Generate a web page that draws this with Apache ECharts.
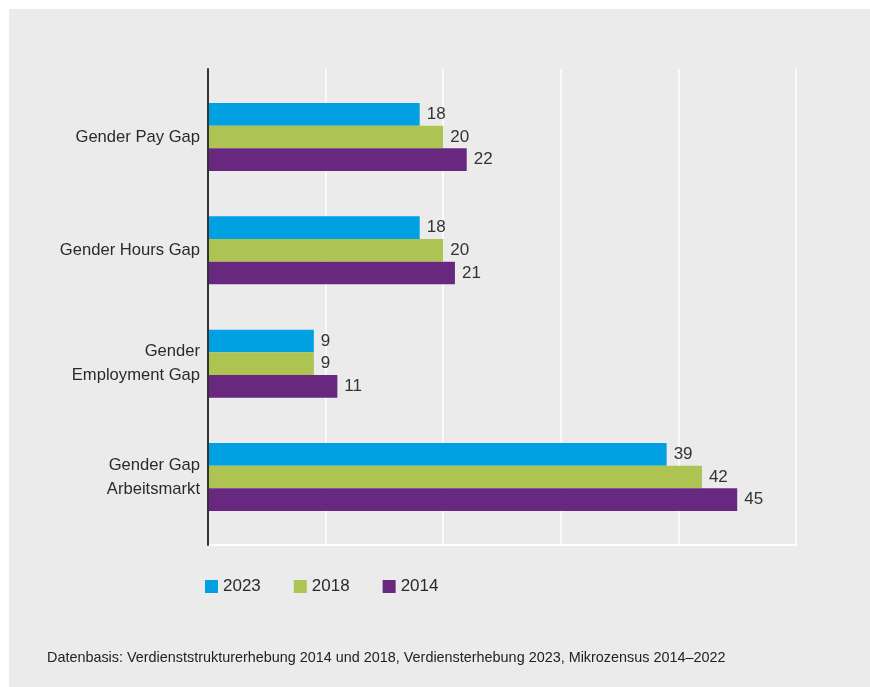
<!DOCTYPE html>
<html>
<head>
<meta charset="utf-8">
<script src="https://cdn.jsdelivr.net/npm/echarts@6/dist/echarts.min.js"></script>
<style>
html,body{margin:0;padding:0;background:#ffffff;}
#chart{position:absolute;left:9px;top:9px;width:861px;height:678px;background:#ebebeb;}
</style>
</head>
<body>
<div id="chart"></div>
<script>
var categories = ['Gender Pay Gap', 'Gender Hours Gap', 'Gender\nEmployment Gap', 'Gender Gap\nArbeitsmarkt'];
var seriesNames = ['2023', '2018', '2014'];
var values2023 = [18, 18, 9, 39];
var values2018 = [20, 20, 9, 42];
var values2014 = [22, 21, 11, 45];
var xTicks = [0, 10, 20, 30, 40, 50];
var footnote = 'Datenbasis: Verdienststrukturerhebung 2014 und 2018, Verdiensterhebung 2023, Mikrozensus 2014\u20132022';

var colors = ['#00a0e2', '#adc452', '#68287f'];
var font = '"Liberation Sans", Arial, Helvetica, sans-serif';
var chart = echarts.init(document.getElementById('chart'), null, {renderer: 'canvas'});

var valueData = [values2023, values2018, values2014];
var series = seriesNames.map(function (name, i) {
  return {
    name: name,
    type: 'bar',
    xAxisIndex: 1,
    yAxisIndex: 1,
    data: valueData[i],
    barGap: '0%',
    barCategoryGap: '40%',
    itemStyle: {color: colors[i]},
    label: {
      show: true,
      position: 'right',
      distance: 7,
      color: '#333333',
      fontFamily: font,
      fontSize: 17
    }
  };
});

var option = {
  animation: false,
  backgroundColor: '#ebebeb',
  color: colors,
  textStyle: {fontFamily: font},
  grid: [
    {left: 199, top: 60, width: 588, height: 476, containLabel: false},
    {left: 199, top: 71.3, width: 588, height: 453.4, containLabel: false}
  ],
  xAxis: [
    {
      gridIndex: 0, type: 'value',
      min: xTicks[0], max: xTicks[xTicks.length - 1], interval: xTicks[1] - xTicks[0],
      axisLine: {show: true, lineStyle: {color: '#ffffff', width: 2}},
      axisTick: {show: false},
      axisLabel: {show: false},
      splitLine: {show: true, lineStyle: {color: '#ffffff', width: 1.5}}
    },
    {
      gridIndex: 1, type: 'value',
      min: xTicks[0], max: xTicks[xTicks.length - 1],
      show: false
    }
  ],
  yAxis: [
    {
      gridIndex: 0, type: 'category', data: [''],
      axisLine: {show: true, lineStyle: {color: '#333333', width: 2}},
      axisTick: {show: false},
      axisLabel: {show: false},
      z: 5
    },
    {
      gridIndex: 1, type: 'category', data: categories, inverse: true,
      axisLine: {show: false},
      axisTick: {show: false},
      axisLabel: {
        color: '#2a2a2a', fontSize: 16.6, fontFamily: font, margin: 8,
        lineHeight: 24, align: 'right'
      }
    }
  ],
  legend: {
    data: seriesNames,
    left: 191,
    top: 564,
    icon: 'rect',
    itemWidth: 13,
    itemHeight: 13,
    itemGap: 33,
    textStyle: {color: '#2a2a2a', fontSize: 17, fontFamily: font}
  },
  graphic: [
    {
      type: 'text',
      left: 38,
      top: 642,
      style: {text: footnote, fill: '#222222', font: '14.4px ' + font}
    }
  ],
  series: series
};
chart.setOption(option);
</script>
</body>
</html>
